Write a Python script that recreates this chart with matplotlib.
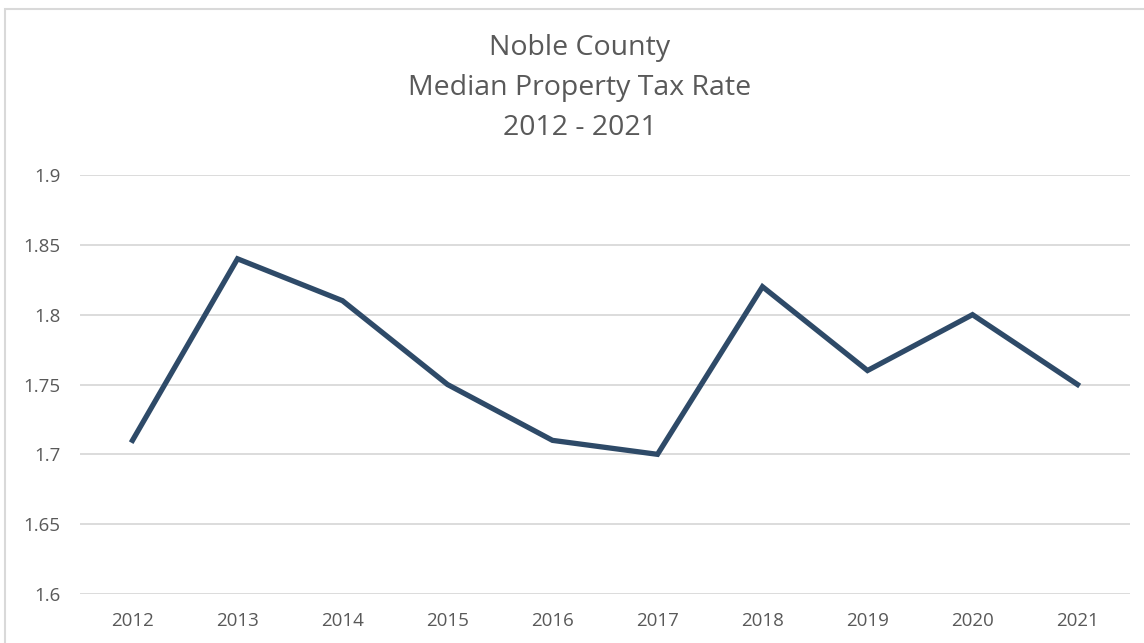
import matplotlib
matplotlib.use('Agg')
import matplotlib.pyplot as plt
from matplotlib.patches import Rectangle

years = ['2012', '2013', '2014', '2015', '2016', '2017', '2018', '2019', '2020', '2021']
rates = [1.71, 1.84, 1.81, 1.75, 1.71, 1.70, 1.82, 1.76, 1.80, 1.75]
yticks = [1.6, 1.65, 1.7, 1.75, 1.8, 1.85, 1.9]
ytick_labels = ['1.6', '1.65', '1.7', '1.75', '1.8', '1.85', '1.9']
title_lines = ['Noble County', 'Median Property Tax Rate', '2012 - 2021']

plt.rcParams['font.family'] = ['Open Sans', 'DejaVu Sans']
W, H = 1144, 643
fig = plt.figure(figsize=(W/100, H/100), dpi=100)

# chart frame
fig.patches.append(Rectangle((5/W, -0.1), 1.2, 1 - 9/H + 0.1, transform=fig.transFigure,
                             fill=False, edgecolor='#d9d9d9', lw=1.5))

ax = fig.add_axes([80/W, 1 - 594/H, (1130-80)/W, (594-175)/H])
x = range(len(years))
ax.plot(x, rates, color='#2e4a68', lw=3.8, solid_joinstyle='miter', zorder=3)
ax.set_xlim(-0.5, len(years) - 0.5)
ax.set_ylim(1.6, 1.9)
ax.set_yticks(yticks)
ax.set_yticklabels(ytick_labels)
ax.set_xticks(list(x))
ax.set_xticklabels(years)
ax.grid(axis='y', color='#d9d9d9', lw=1.3)
ax.set_axisbelow(True)
for s in ax.spines.values():
    s.set_visible(False)
ax.tick_params(length=0, labelsize=13.5, labelcolor='#595959')
ax.tick_params(axis='y', pad=14)
ax.tick_params(axis='x', pad=13)

for i, t in enumerate(title_lines):
    fig.text(580/W, 1 - (48 + 40*i)/H, t, ha='center', va='center', fontsize=20.5, color='#595959')

fig.savefig('out.png', dpi=100)
